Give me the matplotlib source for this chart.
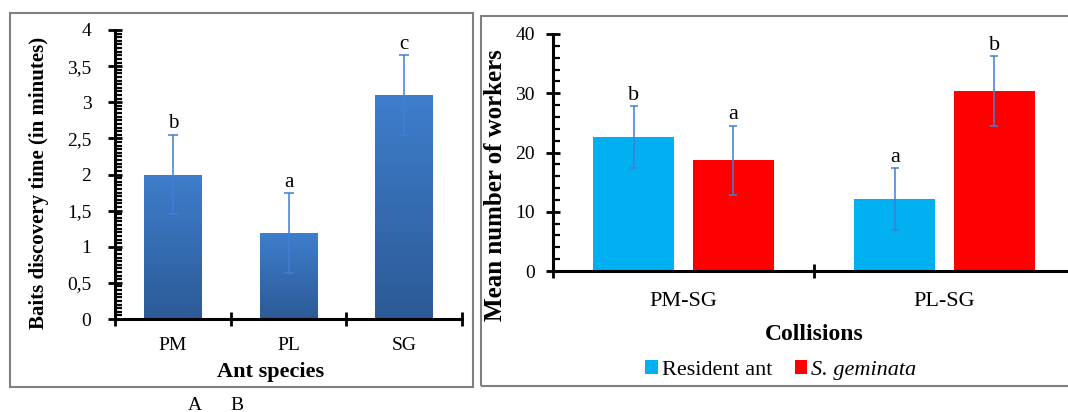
import matplotlib
matplotlib.use('Agg')
import matplotlib.pyplot as plt
import numpy as np
from matplotlib.patches import Rectangle
from matplotlib.ticker import FixedLocator, MultipleLocator, NullFormatter
from matplotlib.colors import LinearSegmentedColormap

plt.rcParams['font.family'] = ['Liberation Serif', 'DejaVu Serif']

# ---------------- data ----------------
species = ['PM', 'PL', 'SG']
discovery_time = [2.0, 1.19, 3.1]
discovery_err = [0.55, 0.55, 0.55]
discovery_letters = ['b', 'a', 'c']
left_yticks = [0, 0.5, 1, 1.5, 2, 2.5, 3, 3.5, 4]
left_yticklabels = ['0', '0,5', '1', '1,5', '2', '2,5', '3', '3,5', '4']

collisions = ['PM-SG', 'PL-SG']
resident_mean = [22.6, 12.15]
resident_err = [5.2, 5.15]
resident_letters = ['b', 'a']
geminata_mean = [18.7, 30.4]
geminata_err = [5.8, 5.9]
geminata_letters = ['a', 'b']
right_yticks = [0, 10, 20, 30, 40]
legend_labels = ['Resident ant', 'S. geminata']

# ---------------- figure ----------------
W, H = 1068, 412
fig = plt.figure(figsize=(W / 100, H / 100), dpi=100)

def fx(px):
    return px / W

def fy(py):
    return 1 - py / H

err_color = '#3f7fd6'

# panel borders
fig.patches.append(Rectangle((fx(10), fy(387)), fx(463), (387 - 13) / H,
                             transform=fig.transFigure, fill=False,
                             edgecolor='#808080', linewidth=1.5))
fig.patches.append(Rectangle((fx(481), fy(386)), fx(620), (386 - 16) / H,
                             transform=fig.transFigure, fill=False,
                             edgecolor='#808080', linewidth=1.5))

# ---------------- left panel ----------------
axL = fig.add_axes([fx(115), fy(319), fx(462 - 115), (319 - 30) / H])
xL = np.arange(len(species))
bars = axL.bar(xL, discovery_time, width=0.5, color='#3a74bd', zorder=2)

# vertical gradient inside each bar
grad = np.linspace(0, 1, 256).reshape(-1, 1)
cmap = LinearSegmentedColormap.from_list('g', ['#2c5a96', '#3e7ecc'])
for b in bars:
    x0, y0 = b.get_x(), b.get_y()
    w, h = b.get_width(), b.get_height()
    im = axL.imshow(grad, extent=[x0, x0 + w, y0, y0 + h], origin='lower',
                    aspect='auto', cmap=cmap, zorder=2.5)
    im.set_clip_path(b)
axL.set_xlim(-0.5, len(species) - 0.5)
axL.set_ylim(0, 4)

axL.errorbar(xL, discovery_time, yerr=discovery_err, fmt='none',
             ecolor=err_color, elinewidth=1.1, capsize=3.6, capthick=1.1, zorder=3)
for xi, v, e, t in zip(xL, discovery_time, discovery_err, discovery_letters):
    axL.annotate(t, (xi, v + e), xytext=(0, 1), textcoords='offset points',
                 ha='center', va='bottom', fontsize=15)

for s in ['top', 'right']:
    axL.spines[s].set_visible(False)
for s in ['left', 'bottom']:
    axL.spines[s].set_linewidth(2.2)
    axL.spines[s].set_color('black')

axL.yaxis.set_major_locator(FixedLocator(left_yticks))
axL.set_yticklabels(left_yticklabels)
axL.yaxis.set_minor_locator(MultipleLocator(0.05))
axL.tick_params(axis='y', which='major', direction='inout', length=10, width=2,
                labelsize=14, pad=12)
axL.tick_params(axis='y', which='minor', direction='in', length=5, width=1.6)

axL.xaxis.set_major_locator(FixedLocator(np.arange(-0.5, len(species), 1.0)))
axL.xaxis.set_major_formatter(NullFormatter())
axL.xaxis.set_minor_locator(FixedLocator(xL))
axL.set_xticklabels(species, minor=True)
axL.tick_params(axis='x', which='major', direction='inout', length=10, width=2)
axL.tick_params(axis='x', which='minor', length=0, labelsize=14, pad=13)

axL.set_xlabel('Ant species', fontsize=16, fontweight='bold')
axL.xaxis.set_label_coords(0.447, -0.148)
fig.text(fx(39), fy(183), 'Baits discovery time (in minutes)', rotation=90,
         ha='center', va='center', fontsize=15, fontweight='bold')

fig.text(fx(195), fy(410), 'A', ha='center', va='baseline', fontsize=14)
fig.text(fx(237), fy(410), 'B', ha='center', va='baseline', fontsize=14)

# ---------------- right panel ----------------
axR = fig.add_axes([fx(553), fy(271), fx(1075 - 553), (271 - 34) / H])
xR = np.arange(len(collisions))
bw = 0.31
off = 0.19
b1 = axR.bar(xR - off, resident_mean, width=bw, color='#00b0f0',
             label=legend_labels[0], zorder=2)
b2 = axR.bar(xR + off, geminata_mean, width=bw, color='#ff0000',
             label=legend_labels[1], zorder=2)
axR.errorbar(xR - off, resident_mean, yerr=resident_err, fmt='none',
             ecolor=err_color, elinewidth=1.1, capsize=2.8, capthick=1.1, zorder=3)
axR.errorbar(xR + off, geminata_mean, yerr=geminata_err, fmt='none',
             ecolor=err_color, elinewidth=1.1, capsize=2.8, capthick=1.1, zorder=3)
for xs, vals, errs, lets in [(xR - off, resident_mean, resident_err, resident_letters),
                             (xR + off, geminata_mean, geminata_err, geminata_letters)]:
    for xi, v, e, t in zip(xs, vals, errs, lets):
        axR.annotate(t, (xi, v + e), xytext=(0, 1), textcoords='offset points',
                     ha='center', va='bottom', fontsize=16)

axR.set_xlim(-0.5, len(collisions) - 0.5)
axR.set_ylim(0, 40)
for s in ['top', 'right']:
    axR.spines[s].set_visible(False)
for s in ['left', 'bottom']:
    axR.spines[s].set_linewidth(2.2)
    axR.spines[s].set_color('black')

axR.yaxis.set_major_locator(FixedLocator(right_yticks))
axR.yaxis.set_minor_locator(MultipleLocator(2))
axR.tick_params(axis='y', which='major', direction='inout', length=10, width=2,
                labelsize=14, pad=8)
axR.tick_params(axis='y', which='minor', direction='in', length=5, width=1.6)

axR.xaxis.set_major_locator(FixedLocator(np.arange(-0.5, len(collisions), 1.0)))
axR.xaxis.set_major_formatter(NullFormatter())
axR.xaxis.set_minor_locator(FixedLocator(xR))
axR.set_xticklabels(collisions, minor=True)
axR.tick_params(axis='x', which='major', direction='inout', length=10, width=2)
axR.tick_params(axis='x', which='minor', length=0, labelsize=16, pad=15)

axR.set_xlabel('Collisions', fontsize=17, fontweight='bold')
axR.xaxis.set_label_coords(0.5, -0.222)
fig.text(fx(495), fy(185), 'Mean number of workers', rotation=90,
         ha='center', va='center', fontsize=18, fontweight='bold')

leg = fig.legend(handles=[b1, b2], labels=legend_labels, loc='center',
                 bbox_to_anchor=(fx(781), fy(370)), ncol=2, frameon=False,
                 fontsize=16, handlelength=0.55, handleheight=0.55,
                 handletextpad=0.2, columnspacing=1.0, borderpad=0)
leg.get_texts()[1].set_fontstyle('italic')

fig.savefig('out.png', dpi=100)
